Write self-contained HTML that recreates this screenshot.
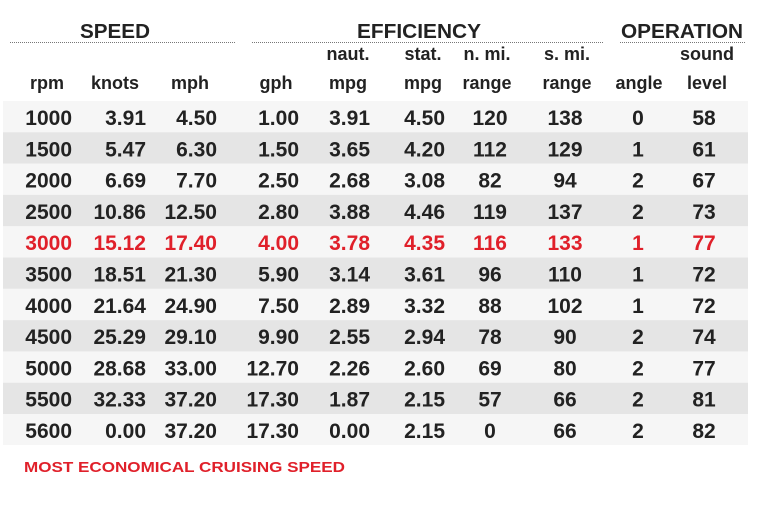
<!DOCTYPE html>
<html><head><meta charset="utf-8"><style>
html,body{margin:0;padding:0;background:#fff;width:770px;height:507px;overflow:hidden}
svg{display:block;font-family:"Liberation Sans",Arial,sans-serif;font-weight:bold}
.r text{font-size:21px}
.e{text-anchor:end}.m{text-anchor:middle}
.red text{fill:#e0202a}
</style></head><body>
<svg width="770" height="507" viewBox="0 0 770 507" xmlns="http://www.w3.org/2000/svg">
<g fill="#222">
<text x="115" y="38" font-size="20" text-anchor="middle" textLength="70" lengthAdjust="spacingAndGlyphs">SPEED</text>
<text x="419" y="38" font-size="20" text-anchor="middle" textLength="124" lengthAdjust="spacingAndGlyphs">EFFICIENCY</text>
<text x="682" y="38" font-size="20" text-anchor="middle" textLength="122" lengthAdjust="spacingAndGlyphs">OPERATION</text>
</g>
<g stroke="#777" stroke-width="1" stroke-dasharray="1,1">
<line x1="10" y1="42.5" x2="235" y2="42.5"/>
<line x1="252" y1="42.5" x2="603" y2="42.5"/>
<line x1="620" y1="42.5" x2="745" y2="42.5"/>
</g>
<g fill="#222" font-size="18" text-anchor="middle">
<text x="348" y="60">naut.</text>
<text x="423" y="60">stat.</text>
<text x="487" y="60">n. mi.</text>
<text x="567" y="60">s. mi.</text>
<text x="707" y="60">sound</text>
<text x="47" y="89">rpm</text>
<text x="115" y="89">knots</text>
<text x="190" y="89">mph</text>
<text x="276" y="89">gph</text>
<text x="348" y="89">mpg</text>
<text x="423" y="89">mpg</text>
<text x="487" y="89">range</text>
<text x="567" y="89">range</text>
<text x="639" y="89">angle</text>
<text x="707" y="89">level</text>
</g>

<g class="r" fill="#222" transform="translate(0,101)"><rect x="3" y="0" width="745" height="31.4" fill="#f6f6f6"/>
<text class="e" x="72" y="24">1000</text><text class="e" x="146" y="24">3.91</text><text class="e" x="217" y="24">4.50</text><text class="e" x="299" y="24">1.00</text><text class="e" x="370" y="24">3.91</text><text class="e" x="445" y="24">4.50</text><text class="m" x="490" y="24">120</text><text class="m" x="565" y="24">138</text><text class="m" x="638" y="24">0</text><text class="m" x="704" y="24">58</text></g>

<g class="r" fill="#222" transform="translate(0,132.3)"><rect x="3" y="0" width="745" height="31.4" fill="#e5e5e5"/>
<text class="e" x="72" y="24">1500</text><text class="e" x="146" y="24">5.47</text><text class="e" x="217" y="24">6.30</text><text class="e" x="299" y="24">1.50</text><text class="e" x="370" y="24">3.65</text><text class="e" x="445" y="24">4.20</text><text class="m" x="490" y="24">112</text><text class="m" x="565" y="24">129</text><text class="m" x="638" y="24">1</text><text class="m" x="704" y="24">61</text></g>

<g class="r" fill="#222" transform="translate(0,163.6)"><rect x="3" y="0" width="745" height="31.4" fill="#f6f6f6"/>
<text class="e" x="72" y="24">2000</text><text class="e" x="146" y="24">6.69</text><text class="e" x="217" y="24">7.70</text><text class="e" x="299" y="24">2.50</text><text class="e" x="370" y="24">2.68</text><text class="e" x="445" y="24">3.08</text><text class="m" x="490" y="24">82</text><text class="m" x="565" y="24">94</text><text class="m" x="638" y="24">2</text><text class="m" x="704" y="24">67</text></g>

<g class="r" fill="#222" transform="translate(0,194.9)"><rect x="3" y="0" width="745" height="31.4" fill="#e5e5e5"/>
<text class="e" x="72" y="24">2500</text><text class="e" x="146" y="24">10.86</text><text class="e" x="217" y="24">12.50</text><text class="e" x="299" y="24">2.80</text><text class="e" x="370" y="24">3.88</text><text class="e" x="445" y="24">4.46</text><text class="m" x="490" y="24">119</text><text class="m" x="565" y="24">137</text><text class="m" x="638" y="24">2</text><text class="m" x="704" y="24">73</text></g>

<g class="r red" fill="#e0202a" transform="translate(0,226.2)"><rect x="3" y="0" width="745" height="31.4" fill="#f6f6f6"/>
<text class="e" x="72" y="24">3000</text><text class="e" x="146" y="24">15.12</text><text class="e" x="217" y="24">17.40</text><text class="e" x="299" y="24">4.00</text><text class="e" x="370" y="24">3.78</text><text class="e" x="445" y="24">4.35</text><text class="m" x="490" y="24">116</text><text class="m" x="565" y="24">133</text><text class="m" x="638" y="24">1</text><text class="m" x="704" y="24">77</text></g>

<g class="r" fill="#222" transform="translate(0,257.5)"><rect x="3" y="0" width="745" height="31.4" fill="#e5e5e5"/>
<text class="e" x="72" y="24">3500</text><text class="e" x="146" y="24">18.51</text><text class="e" x="217" y="24">21.30</text><text class="e" x="299" y="24">5.90</text><text class="e" x="370" y="24">3.14</text><text class="e" x="445" y="24">3.61</text><text class="m" x="490" y="24">96</text><text class="m" x="565" y="24">110</text><text class="m" x="638" y="24">1</text><text class="m" x="704" y="24">72</text></g>

<g class="r" fill="#222" transform="translate(0,288.8)"><rect x="3" y="0" width="745" height="31.4" fill="#f6f6f6"/>
<text class="e" x="72" y="24">4000</text><text class="e" x="146" y="24">21.64</text><text class="e" x="217" y="24">24.90</text><text class="e" x="299" y="24">7.50</text><text class="e" x="370" y="24">2.89</text><text class="e" x="445" y="24">3.32</text><text class="m" x="490" y="24">88</text><text class="m" x="565" y="24">102</text><text class="m" x="638" y="24">1</text><text class="m" x="704" y="24">72</text></g>

<g class="r" fill="#222" transform="translate(0,320.1)"><rect x="3" y="0" width="745" height="31.4" fill="#e5e5e5"/>
<text class="e" x="72" y="24">4500</text><text class="e" x="146" y="24">25.29</text><text class="e" x="217" y="24">29.10</text><text class="e" x="299" y="24">9.90</text><text class="e" x="370" y="24">2.55</text><text class="e" x="445" y="24">2.94</text><text class="m" x="490" y="24">78</text><text class="m" x="565" y="24">90</text><text class="m" x="638" y="24">2</text><text class="m" x="704" y="24">74</text></g>

<g class="r" fill="#222" transform="translate(0,351.4)"><rect x="3" y="0" width="745" height="31.4" fill="#f6f6f6"/>
<text class="e" x="72" y="24">5000</text><text class="e" x="146" y="24">28.68</text><text class="e" x="217" y="24">33.00</text><text class="e" x="299" y="24">12.70</text><text class="e" x="370" y="24">2.26</text><text class="e" x="445" y="24">2.60</text><text class="m" x="490" y="24">69</text><text class="m" x="565" y="24">80</text><text class="m" x="638" y="24">2</text><text class="m" x="704" y="24">77</text></g>

<g class="r" fill="#222" transform="translate(0,382.7)"><rect x="3" y="0" width="745" height="31.4" fill="#e5e5e5"/>
<text class="e" x="72" y="24">5500</text><text class="e" x="146" y="24">32.33</text><text class="e" x="217" y="24">37.20</text><text class="e" x="299" y="24">17.30</text><text class="e" x="370" y="24">1.87</text><text class="e" x="445" y="24">2.15</text><text class="m" x="490" y="24">57</text><text class="m" x="565" y="24">66</text><text class="m" x="638" y="24">2</text><text class="m" x="704" y="24">81</text></g>

<g class="r" fill="#222" transform="translate(0,414)"><rect x="3" y="0" width="745" height="31" fill="#f6f6f6"/>
<text class="e" x="72" y="24">5600</text><text class="e" x="146" y="24">0.00</text><text class="e" x="217" y="24">37.20</text><text class="e" x="299" y="24">17.30</text><text class="e" x="370" y="24">0.00</text><text class="e" x="445" y="24">2.15</text><text class="m" x="490" y="24">0</text><text class="m" x="565" y="24">66</text><text class="m" x="638" y="24">2</text><text class="m" x="704" y="24">82</text></g>

<text x="24" y="472" font-size="15" fill="#e0202a" textLength="321" lengthAdjust="spacingAndGlyphs">MOST ECONOMICAL CRUISING SPEED</text>
</svg>
</body></html>
